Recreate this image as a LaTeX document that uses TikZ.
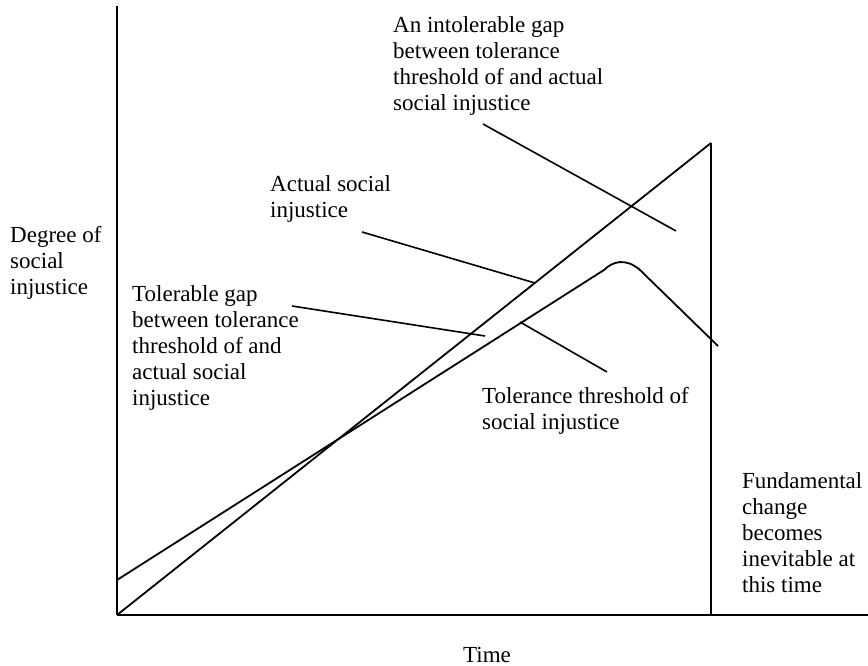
\documentclass[tikz,border=0pt]{standalone}
\usepackage{fontspec}
\setmainfont{Liberation Serif}
\usepackage{tikz}

\tikzset{
  labeltext/.style={anchor=base west,align=left,inner sep=0pt,
    font=\fontsize{23}{26}\selectfont},
  axisline/.style={line width=2pt},
  curveline/.style={line width=1.8pt,line join=round},
  leaderline/.style={line width=1.6pt}
}

\begin{document}
\begin{tikzpicture}[x=1pt,y=-1pt]
\useasboundingbox
    (0,0)
    rectangle
    (868,666);
% axes and the moment of change
\coordinate (origin) at (117,615);
\coordinate (ytop) at (117,6);
\coordinate (xend) at (868,615);
\coordinate (changetop) at (711,143);
\coordinate (changefoot) at (711,615);
  \draw[axisline]
    (ytop)
    --
    (origin);
  \draw[line width=2.6pt]
    (origin)
    --
    (xend);
  \draw[axisline]
    (changetop)
    --
    (changefoot);
% actual social injustice
  \draw[curveline]
    (origin)
    --
    (changetop);
% tolerance threshold
\coordinate (thrstart) at (117,580);
\coordinate (thrbend) at (604,270);
\coordinate (thrdown) at (640,270);
\coordinate (thrend) at (718,346);
  \draw[curveline]
    (thrstart)
    --
    (thrbend)
    .. controls (612,262) and (625,257) ..
    (thrdown)
    --
    (thrend);
% labels (placed at the baseline of their last line)
\node[labeltext] (degreelabel) at (10,294)
    {Degree of\\social\\injustice};
\node[labeltext] (intolerablelabel) at (393,111)
    {An intolerable gap\\between tolerance\\threshold of and actual\\social injustice};
\node[labeltext] (actuallabel) at (270,218)
    {Actual social\\injustice};
\node[labeltext] (tolerablelabel) at (132,405)
    {Tolerable gap\\between tolerance\\threshold of and\\actual social\\injustice};
\node[labeltext] (thresholdlabel) at (482,429)
    {Tolerance threshold of\\social injustice};
\node[labeltext] (changelabel) at (742,592)
    {Fundamental\\change\\becomes\\inevitable at\\this time};
\node[labeltext] (timelabel) at (463,662)
    {Time};
% leader lines
\coordinate (intolerableA) at (483,124);
\coordinate (intolerableB) at (676,231);
\coordinate (actualA) at (362,232);
\coordinate (actualB) at (535,283);
\coordinate (tolerableA) at (292,306);
\coordinate (tolerableB) at (485,336);
\coordinate (thresholdA) at (520,322);
\coordinate (thresholdB) at (607,372);
  \draw[leaderline]
    (intolerableA)
    --
    (intolerableB);
  \draw[leaderline]
    (actualA)
    --
    (actualB);
  \draw[leaderline]
    (tolerableA)
    --
    (tolerableB);
  \draw[leaderline]
    (thresholdA)
    --
    (thresholdB);
\end{tikzpicture}
\end{document}
